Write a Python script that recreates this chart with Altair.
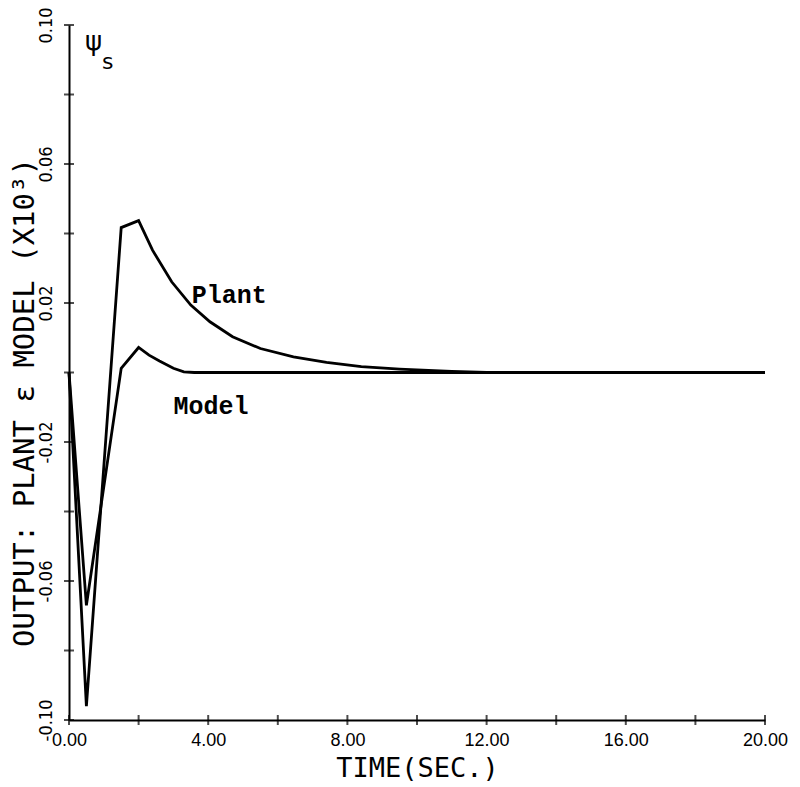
import altair as alt
import pandas as pd

# Response of the yaw rate psi_s: plant vs. reference model (values x 1e-3)
plant_t = [0.0, 0.5, 1.5, 2.0, 2.4, 2.95, 3.5, 4.05, 4.7, 5.5, 6.45, 7.4, 8.4, 9.5, 11.0, 12.0, 20.0]
plant_y = [0.0, -0.096, 0.0417, 0.0437, 0.0352, 0.0261, 0.0194, 0.0146, 0.0103, 0.0069,
           0.0045, 0.0029, 0.0017, 0.0010, 0.0003, 0.0, 0.0]

model_t = [0.0, 0.5, 1.5, 2.0, 2.3, 2.6, 3.0, 3.3, 3.6, 20.0]
model_y = [0.0, -0.067, 0.0012, 0.0072, 0.005, 0.0033, 0.0012, 0.0002, 0.0, 0.0]

x_ticks = [0, 2, 4, 6, 8, 10, 12, 14, 16, 18, 20]
x_labels = [0, 4, 8, 12, 16, 20]
y_ticks = [-0.10, -0.08, -0.06, -0.04, -0.02, 0.0, 0.02, 0.04, 0.06, 0.08, 0.10]
y_labels = [-0.10, -0.06, -0.02, 0.02, 0.06, 0.10]

notes = pd.DataFrame({
    "t": [3.53, 3.0],
    "v": [0.0199, -0.0118],
    "txt": ["Plant", "Model"],
})

lines = pd.concat([
    pd.DataFrame({"t": plant_t, "v": plant_y, "series": "Plant"}),
    pd.DataFrame({"t": model_t, "v": model_y, "series": "Model"}),
])

AXIS_FONT = "DejaVu Sans Mono"
xs = alt.Scale(domain=[0, 20], nice=False, zero=False)
ys = alt.Scale(domain=[-0.1, 0.1], nice=False, zero=False)

x_axis = alt.Axis(
    values=x_labels, ticks=False, tickSize=0, grid=False,
    domainColor="black", domainWidth=2, labelFlush=False,
    labelExpr="replace(format(datum.value, '.2f'), '\u2212', '-')",
    labelFont="Liberation Sans", labelFontSize=18, labelColor="black",
    labelPadding=11, labelBaseline="top",
    title="TIME(SEC.)", titleFont=AXIS_FONT, titleFontSize=27,
    titleFontWeight="normal", titleColor="black",
    titleX=348, titleY=56, titleAlign="center", titleBaseline="alphabetic",
)
y_axis = alt.Axis(
    values=y_labels, ticks=False, tickSize=0, grid=False,
    domainColor="black", domainWidth=2, labelFlush=False,
    labelExpr="replace(format(datum.value, '.2f'), '\u2212', '-')",
    labelFont="Liberation Sans Narrow, DejaVu Sans Condensed, sans-serif",
    labelFontSize=18, labelColor="black", labelAngle=270,
    labelAlign="center", labelBaseline="alphabetic", labelPadding=18,
    title="OUTPUT: PLANT \u03b5 MODEL (X10\u00b3)", titleFont=AXIS_FONT,
    titleFontSize=29, titleFontWeight="normal", titleColor="black",
    titleAngle=270, titleX=-36, titleY=377,
    titleAlign="center", titleBaseline="alphabetic",
)

base = alt.Chart(lines)

curves = base.mark_line(color="black", strokeWidth=2.8, strokeJoin="miter").encode(
    x=alt.X("t:Q", scale=xs, axis=x_axis),
    y=alt.Y("v:Q", scale=ys, axis=y_axis),
    detail="series:N",
)

# Tick marks that cross the axis lines
ytick_marks = alt.Chart(pd.DataFrame({"v": y_ticks})).mark_tick(
    orient="horizontal", color="black", size=10, thickness=2
).encode(x=alt.datum(0, scale=xs), y=alt.Y("v:Q", scale=ys))

xtick_marks = alt.Chart(pd.DataFrame({"t": x_ticks})).mark_tick(
    orient="vertical", color="black", size=10, thickness=2
).encode(x=alt.X("t:Q", scale=xs), y=alt.datum(-0.1, scale=ys))

labels = alt.Chart(notes).mark_text(
    font="Liberation Mono", fontSize=25, fontWeight="bold", color="black",
    align="left", baseline="alphabetic",
).encode(x=alt.X("t:Q", scale=xs), y=alt.Y("v:Q", scale=ys), text="txt:N")

psi = alt.Chart(pd.DataFrame({"t": [0.46], "v": [0.0927], "txt": ["\u03c8"]})).mark_text(
    font="DejaVu Sans", fontSize=26, color="black", align="left", baseline="alphabetic"
).encode(x=alt.X("t:Q", scale=xs), y=alt.Y("v:Q", scale=ys), text="txt:N")

psi_sub = alt.Chart(pd.DataFrame({"t": [0.95], "v": [0.0872], "txt": ["s"]})).mark_text(
    font="DejaVu Sans", fontSize=22, color="black", align="left", baseline="alphabetic"
).encode(x=alt.X("t:Q", scale=xs), y=alt.Y("v:Q", scale=ys), text="txt:N")

chart = alt.layer(curves, ytick_marks, xtick_marks, labels, psi, psi_sub).properties(
    width=696, height=695,
    autosize=alt.AutoSizeParams(type="none"),
    padding={"left": 69, "top": 25, "right": 35, "bottom": 67},
    background="white",
).configure_view(strokeWidth=0)

chart.save("out.html", embed_options={"renderer": "svg", "actions": False})
